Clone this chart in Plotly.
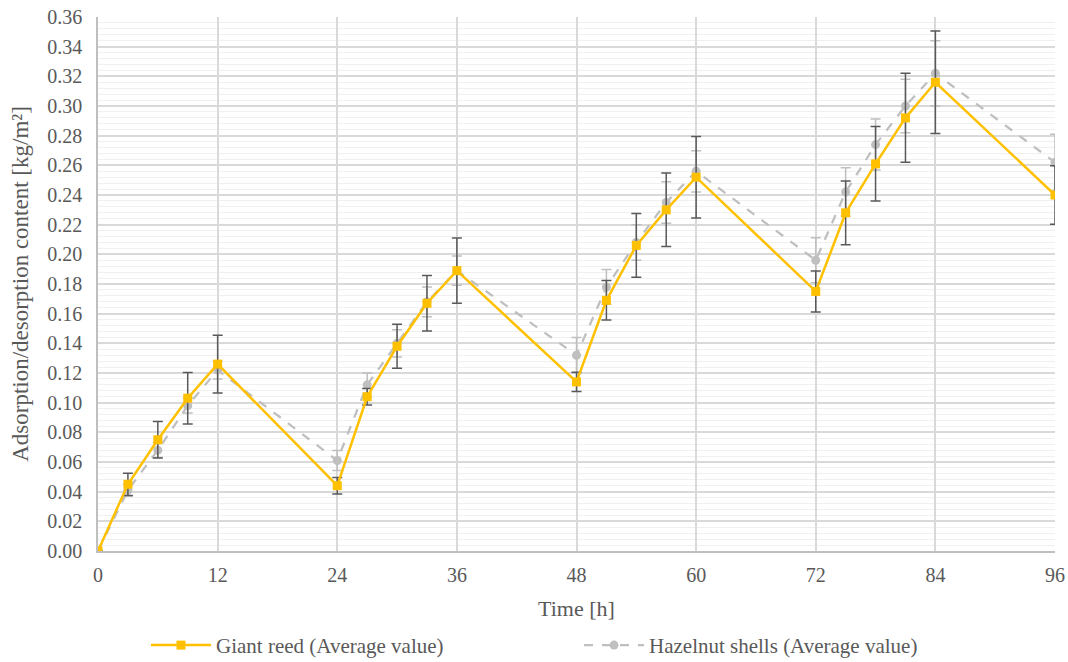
import plotly.graph_objects as go

time_h = [0, 3, 6, 9, 12, 24, 27, 30, 33, 36, 48, 51, 54, 57, 60, 72, 75, 78, 81, 84, 96]

giant_reed = [0.000, 0.045, 0.075, 0.103, 0.126, 0.044, 0.104, 0.138, 0.167, 0.189,
              0.114, 0.169, 0.206, 0.230, 0.252, 0.175, 0.228, 0.261, 0.292, 0.316, 0.240]
giant_reed_err = [0.000, 0.0075, 0.0123, 0.0173, 0.0195, 0.0056, 0.0056, 0.0148, 0.0187, 0.022,
                  0.0065, 0.0133, 0.0215, 0.0248, 0.0275, 0.0138, 0.0215, 0.0251, 0.030, 0.0345, 0.0198]

hazelnut = [0.000, 0.041, 0.068, 0.098, 0.122, 0.061, 0.112, 0.140, 0.168, 0.189,
            0.132, 0.178, 0.208, 0.235, 0.256, 0.196, 0.242, 0.274, 0.300, 0.322, 0.262]
hazelnut_err = [0.000, 0.004, 0.005, 0.005, 0.006, 0.0067, 0.008, 0.0092, 0.010, 0.0099,
                0.012, 0.0117, 0.012, 0.014, 0.0139, 0.0151, 0.0164, 0.0172, 0.018, 0.022, 0.019]

x_ticks = [0, 12, 24, 36, 48, 60, 72, 84, 96]

FAM = "Liberation Serif"
TXT = "#595959"
W, H = 1068, 662

fig = go.Figure()

fig.add_trace(go.Scatter(
    x=time_h, y=hazelnut, name="Hazelnut shells (Average value)",
    mode="lines+markers",
    line=dict(color="#BFBFBF", width=2.25, dash="dash"),
    marker=dict(symbol="circle", size=9, color="#BFBFBF"),
    error_y=dict(type="data", array=hazelnut_err, visible=True,
                 color="#BFBFBF", thickness=1.5, width=5),
    legend="legend2",
))

fig.add_trace(go.Scatter(
    x=time_h, y=giant_reed, name="Giant reed (Average value)",
    mode="lines+markers",
    line=dict(color="#FFC000", width=2.5),
    marker=dict(symbol="square", size=9, color="#FFC000"),
    error_y=dict(type="data", array=giant_reed_err, visible=True,
                 color="#595959", thickness=1.5, width=5),
    legend="legend",
))

legend_common = dict(orientation="h", yref="container", y=0.025, yanchor="middle",
                     xref="container", xanchor="left",
                     font=dict(family=FAM, size=21, color=TXT),
                     bgcolor="rgba(0,0,0,0)", itemwidth=60)

fig.update_layout(
    width=W, height=H,
    margin=dict(l=98, r=13, t=17, b=111, autoexpand=False),
    plot_bgcolor="white", paper_bgcolor="white",
    font=dict(family=FAM, size=20, color=TXT),
    showlegend=True,
    legend=dict(x=146 / W, **legend_common),
    legend2=dict(x=579 / W, **legend_common),
)

fig.update_xaxes(
    range=[0, 96], tickvals=x_ticks, ticktext=[str(v) for v in x_ticks],
    showgrid=True, gridcolor="#D9D9D9", gridwidth=1.5,
    showline=True, linecolor="#BFBFBF", linewidth=1.5,
    zeroline=False, ticks="", automargin=False,
    ticklabelstandoff=5, ticklabeloverflow="allow",
    title=dict(text="Time [h]", font=dict(family=FAM, size=22, color=TXT), standoff=16),
    tickfont=dict(family=FAM, size=20, color=TXT),
)

fig.update_yaxes(
    range=[0, 0.36], dtick=0.02, tickformat=".2f",
    showgrid=True, gridcolor="#D9D9D9", gridwidth=1.5,
    minor=dict(dtick=0.004, showgrid=True, gridcolor="#F0F0F0", gridwidth=1),
    showline=True, linecolor="#BFBFBF", linewidth=1.5,
    zeroline=False, ticks="", automargin=False,
    ticklabelstandoff=10, ticklabeloverflow="allow",
    title=dict(text="Adsorption/desorption content [kg/m²]",
               font=dict(family=FAM, size=23, color=TXT), standoff=12),
    tickfont=dict(family=FAM, size=20, color=TXT),
)

fig.write_html(
    "out.html",
    config={"displayModeBar": False},
    post_script="document.body.style.margin='0';document.body.style.overflow='hidden';",
)
